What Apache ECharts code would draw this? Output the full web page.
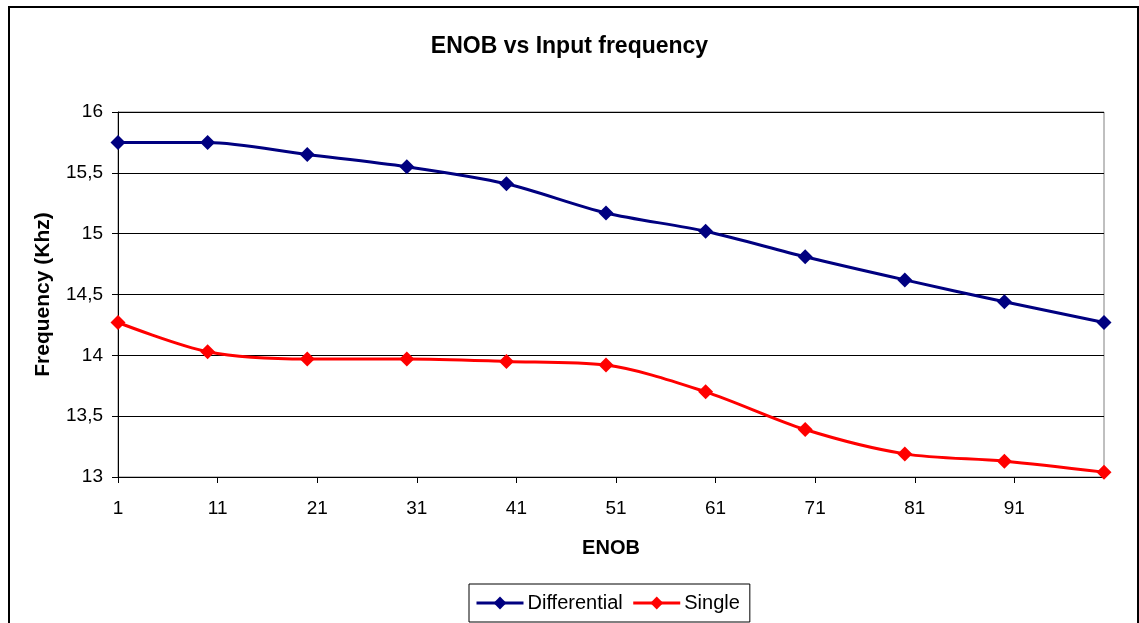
<!DOCTYPE html>
<html><head><meta charset="utf-8">
<script src="https://cdn.jsdelivr.net/npm/echarts@6/dist/echarts.min.js"></script>
<style>html,body{margin:0;padding:0;background:#fff}#c{width:1139px;height:623px}</style>
</head><body><div id="c"></div>
<script>
const enob = [1, 10, 20, 30, 40, 50, 60, 70, 80, 90, 100];
const differential = [15.75, 15.75, 15.65, 15.55, 15.41, 15.17, 15.02, 14.81, 14.62, 14.44, 14.27];
const single = [14.27, 14.03, 13.97, 13.97, 13.95, 13.92, 13.70, 13.39, 13.19, 13.13, 13.04];
const seriesNames = ['Differential', 'Single'];
const colors = ['#000080', '#FF0000'];

const font = 'Liberation Sans, Arial, sans-serif';
const chart = echarts.init(document.getElementById('c'), null, {renderer: 'canvas'});
const mk = (vals) => enob.map((x, i) => [x, vals[i]]);
chart.setOption({
  animation: false,
  backgroundColor: '#fff',
  graphic: [{
    type: 'rect', shape: {x: 9, y: 7, width: 1129, height: 630},
    style: {fill: 'none', stroke: '#000', lineWidth: 2}, silent: true, z: -1
  }],
  title: {
    text: 'ENOB vs Input frequency', left: 'center', top: 30,
    textStyle: {fontFamily: font, fontSize: 23, fontWeight: 'bold', color: '#000'}
  },
  grid: {left: 118, right: 35, top: 112, bottom: 146, show: true, borderColor: '#808080', borderWidth: 1, containLabel: false},
  legend: {
    data: seriesNames, left: 469, top: 584, orient: 'horizontal',
    padding: [9, 10, 9, 6], itemGap: 9, itemWidth: 47, itemHeight: 16,
    borderColor: '#000', borderWidth: 1, borderRadius: 0,
    lineStyle: {width: 3},
    textStyle: {fontFamily: font, fontSize: 20, color: '#000', padding: [0, 0, 0, -1]}
  },
  xAxis: {
    type: 'value', min: 1, max: 100, interval: 10,
    name: 'ENOB', nameLocation: 'middle', nameGap: 61,
    nameTextStyle: {fontFamily: font, fontSize: 20, fontWeight: 'bold', color: '#000'},
    axisLine: {lineStyle: {color: '#000', width: 1}},
    axisTick: {show: true, inside: false, length: 6, lineStyle: {color: '#000'}},
    axisLabel: {fontFamily: font, fontSize: 19, color: '#000', margin: 22, showMaxLabel: false},
    splitLine: {show: false}
  },
  yAxis: {
    type: 'value', min: 13, max: 16, interval: 0.5,
    name: 'Frequency (Khz)', nameLocation: 'middle', nameGap: 64, nameRotate: 90,
    nameTextStyle: {fontFamily: font, fontSize: 21, fontWeight: 'bold', color: '#000'},
    axisLine: {show: true, lineStyle: {color: '#000', width: 1}},
    axisTick: {show: true, inside: false, length: 6, lineStyle: {color: '#000'}},
    axisLabel: {fontFamily: font, fontSize: 19, color: '#000', margin: 15,
      formatter: v => String(v).replace('.', ',')},
    splitLine: {show: true, lineStyle: {color: '#000', width: 1}}
  },
  series: [
    {name: seriesNames[0], type: 'line', data: mk(differential), smooth: 0.3,
     symbol: 'diamond', symbolSize: 15, color: colors[0],
     lineStyle: {color: colors[0], width: 3}, itemStyle: {color: colors[0]}},
    {name: seriesNames[1], type: 'line', data: mk(single), smooth: 0.3,
     symbol: 'diamond', symbolSize: 15, color: colors[1],
     lineStyle: {color: colors[1], width: 3}, itemStyle: {color: colors[1]}}
  ]
});
</script></body></html>
